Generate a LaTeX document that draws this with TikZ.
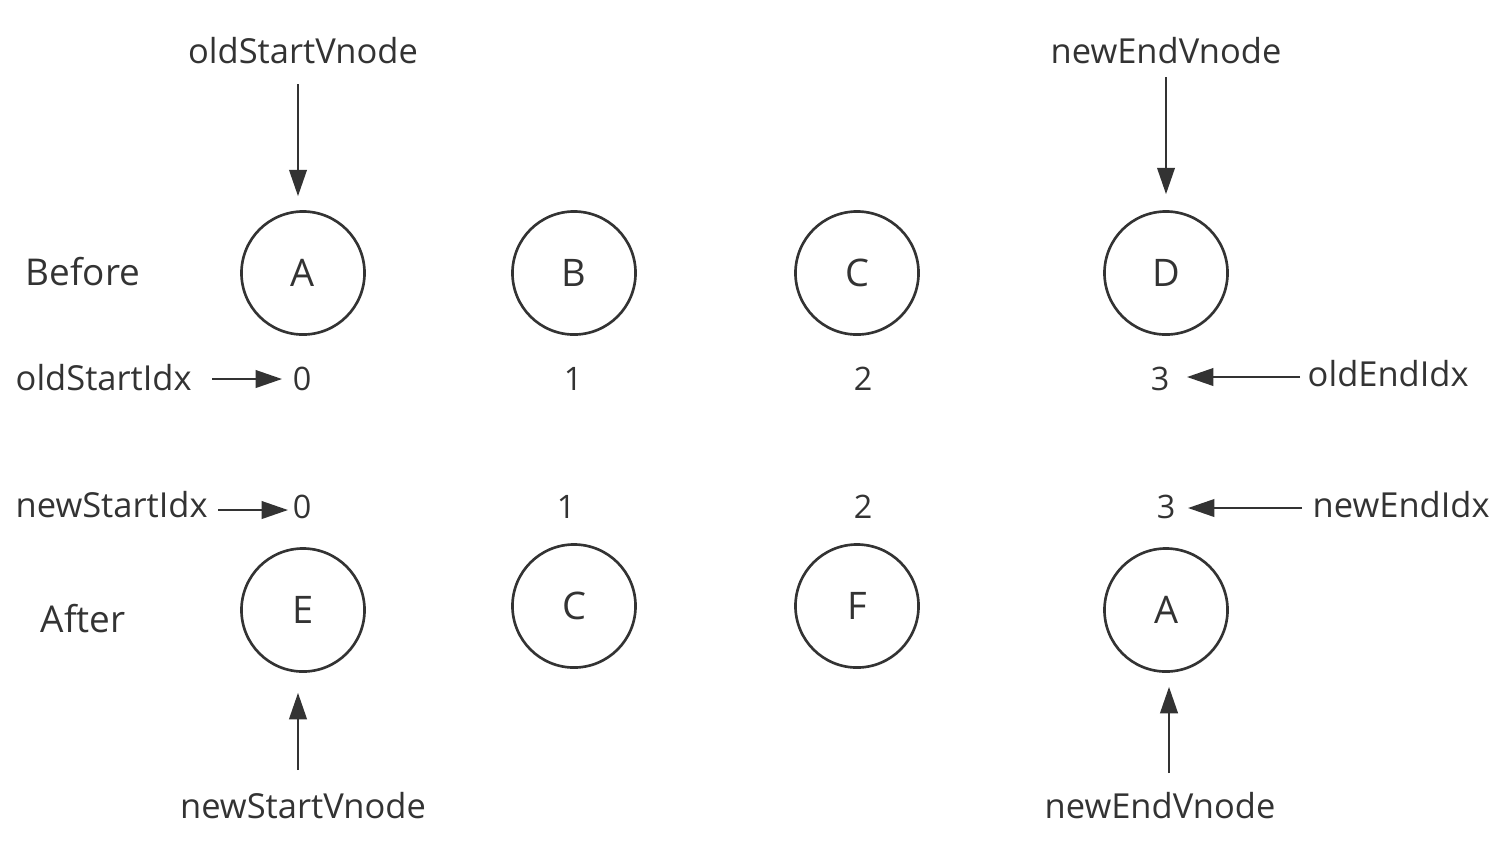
\documentclass[tikz,border=0pt]{standalone}
\usepackage{fontspec}
\setmainfont{Open Sans}
\usetikzlibrary{arrows.meta,calc}
\definecolor{ink}{HTML}{333333}

\begin{document}
\begin{tikzpicture}[x=0.01cm,y=-0.01cm,
    vnode/.style={circle,draw=ink,text=ink,line width=0.75pt,minimum size=1.23cm,inner sep=0pt,font=\fontsize{10.8}{13}\selectfont},
    lbl/.style={text=ink,inner sep=0pt,font=\fontsize{9.8}{12}\selectfont},
    idx/.style={text=ink,font=\fontsize{9.2}{11}\selectfont},
    ptr/.style={draw=ink,line width=0.6pt,-{Triangle[length=7.5pt,width=5pt]}}]
  \useasboundingbox (0,0) rectangle (1498,844);

  % before / after
  \node[lbl,anchor=base,font=\fontsize{10.5}{13}\selectfont] (before) at (83,285) {Before};
  \node[lbl,anchor=base,font=\fontsize{10.5}{13}\selectfont] (after) at (83,632) {After};

  % old children
  \node[vnode] (oA) at (303,273) {A};
  \node[vnode] (oB) at (574,273) {B};
  \node[vnode] (oC) at (857,273) {C};
  \node[vnode] (oD) at (1166,273) {D};

  % new children
  \node[vnode] (nE) at (303,610) {E};
  \node[vnode] (nC) at (574,606) {C};
  \node[vnode] (nF) at (857,606) {F};
  \node[vnode] (nA) at (1166,610) {A};

  % indices
  \node[idx] (o0) at (302,379) {0};
  \node[idx] (o1) at (573,379) {1};
  \node[idx] (o2) at (863,379) {2};
  \node[idx] (o3) at (1160,379) {3};
  \node[idx] (n0) at (302,507) {0};
  \node[idx] (n1) at (566,507) {1};
  \node[idx] (n2) at (863,507) {2};
  \node[idx] (n3) at (1166,507) {3};

  % pointer labels
  \node[lbl,anchor=base west] (oldStartIdx) at (15,390) {oldStartIdx};
  \node[lbl,anchor=base west] (newStartIdx) at (15,517) {newStartIdx};
  \node[lbl,anchor=base west] (oldEndIdx) at (1307,386) {oldEndIdx};
  \node[lbl,anchor=base west] (newEndIdx) at (1312,517) {newEndIdx};
  \node[lbl,anchor=base] (oldStartVnode) at (303,63) {oldStartVnode};
  \node[lbl,anchor=base] (newEndVnodeT) at (1166,63) {newEndVnode};
  \node[lbl,anchor=base] (newStartVnode) at (303,818) {newStartVnode};
  \node[lbl,anchor=base] (newEndVnodeB) at (1160,818) {newEndVnode};

  % arrows
  \draw[ptr] ($(oldStartIdx.east |- o0)+(20,0)$) -- ($(o0)+(-20,0)$);
  \draw[ptr] ($(newStartIdx.east |- n0)+(10,3)$) -- ($(n0)+(-14,3)$);
  \draw[ptr] ($(oldEndIdx.west |- o3)+(-7,-2)$) -- ($(o3)+(27,-2)$);
  \draw[ptr] ($(newEndIdx.west |- n3)+(-10,1)$) -- ($(n3)+(22,1)$);
  \draw[ptr] ($(oldStartVnode.base)+(-5,21)$) -- ($(oA.north)+(-5,-14)$);
  \draw[ptr] ($(newEndVnodeT.base)+(0,14)$) -- ($(oD.north)+(0,-16)$);
  \draw[ptr] ($(newStartVnode.base)+(-5,-48)$) -- ($(nE.south)+(-5,20)$);
  \draw[ptr] ($(newEndVnodeB.base)+(9,-45)$) -- ($(nA.south)+(3,14)$);
\end{tikzpicture}
\end{document}
